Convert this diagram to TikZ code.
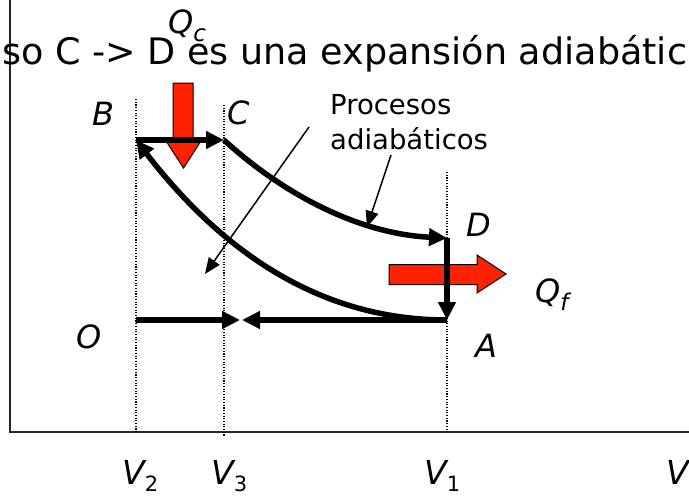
\documentclass[tikz,border=0pt]{standalone}
\usepackage{fontspec}
\setmainfont{DejaVu Sans}
\usetikzlibrary{arrows.meta}
\definecolor{heatred}{HTML}{FF2200}
\newcommand{\vsub}[1]{\raisebox{-7pt}{\fontsize{21}{21}\selectfont\upshape #1}}
\newcommand{\qsub}[1]{\raisebox{-8pt}{\fontsize{23}{23}\selectfont #1}}

\begin{document}
\begin{tikzpicture}[
  x=1pt, y=-1pt,
  proc/.style={line width=5.5pt, -{Triangle[length=18pt,width=17pt]}},
  lead/.style={line width=1.5pt, -{Triangle[length=16pt,width=13pt]}},
  guide/.style={line width=1.1pt, dash pattern=on 1.1pt off 1.6pt},
  axis/.style={line width=1.6pt, black!85},
  heat/.style={draw=black, line width=1pt, fill=heatred},
  lbl/.style={inner sep=0pt, anchor=base west, font=\fontsize{32}{32}\selectfont\itshape},
  vlbl/.style={inner sep=0pt, anchor=base west, font=\fontsize{33}{33}\selectfont\itshape},
  note/.style={inner sep=0pt, align=left, font=\fontsize{27.5}{35}\selectfont},
  title/.style={inner sep=0pt, anchor=base west, font=\fontsize{36.5}{40}\selectfont}
]
\useasboundingbox (0,0) rectangle (689,498);

% axes
\coordinate (ytop) at (10,0);
\coordinate (orig) at (10,432);
\coordinate (xend) at (689,432);
\draw[axis] (ytop) -- (orig) -- (xend);

% volume guides
\coordinate (g2a) at (136,99);  \coordinate (g2b) at (136,432);
\coordinate (g3a) at (224,105); \coordinate (g3b) at (224,437);
\coordinate (g1a) at (447,172); \coordinate (g1b) at (447,429);
\draw[guide] (g2a) -- (g2b);
\draw[guide] (g3a) -- (g3b);
\draw[guide] (g1a) -- (g1b);

% heat flows
\draw[heat] (173,83) -- (193,83) -- (193,141) -- (201,141) -- (183.5,168)
  -- (166,141) -- (173,141) -- cycle;
\draw[heat] (389,264.5) -- (477,264.5) -- (477,255) -- (506,274) -- (477,293)
  -- (477,284.5) -- (389,284.5) -- cycle;

% state points
\coordinate (O) at (136,320);
\coordinate (A) at (447,320);
\coordinate (B) at (136,140);
\coordinate (C) at (224,140);
\coordinate (D) at (447,238);
\coordinate (meetL) at (240,320);
\coordinate (meetR) at (242,320);

% cycle
\draw[proc] (B) -- (C);
\draw[proc] (C) .. controls (284,195) and (360,234) .. (D);
\draw[proc] (D) -- (A);
\draw[proc] (A) .. controls (330,320) and (230,262) .. (B);
\draw[proc] (O) -- (meetL);
\draw[proc] (A) -- (meetR);

% labels
\node[title] (head) at (2,64) {so C -> D es una expansión adiabátic};
\node[lbl] (labB) at (92,125) {B};
\node[lbl] (labC) at (227,124) {C};
\node[lbl] (labD) at (466,236) {D};
\node[lbl] (labA) at (475,357) {A};
\node[lbl] (labO) at (76,348) {O};
\node[lbl] (labQc) at (168,33) {Q\qsub{c}};
\node[lbl] (labQf) at (535,302) {Q\qsub{f}};
\node[note, anchor=north west] (procs) at (330,94) {Procesos\\adiabáticos};

% pointers to the adiabats
\coordinate (p1) at (309,127);
\coordinate (p1e) at (205,274);
\coordinate (p2) at (391,155);
\coordinate (p2e) at (367,227);
\draw[lead] (p1) -- (p1e);
\draw[lead] (p2) -- (p2e);

% volume axis
\node[vlbl] (labV2) at (122,484) {V\vsub{2}};
\node[vlbl] (labV3) at (211,484) {V\vsub{3}};
\node[vlbl] (labV1) at (424,484) {V\vsub{1}};
\node[vlbl] (labV) at (666,484) {V};
\end{tikzpicture}
\end{document}
